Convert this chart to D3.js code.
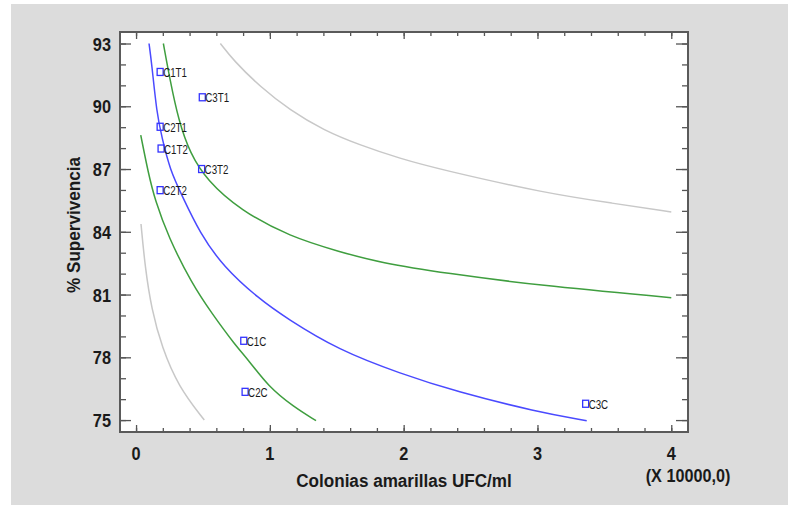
<!DOCTYPE html>
<html>
<head>
<meta charset="utf-8">
<script src="https://cdn.jsdelivr.net/npm/d3@7"></script>
<style>
  body { margin: 0; background: #fff; }
  text { font-family: "Liberation Sans", Arial, sans-serif; }
</style>
</head>
<body>
<script>
// observed points (x in units of 10000 UFC/ml)
var pointLabels = ["C1T1", "C3T1", "C2T1", "C1T2", "C3T2", "C2T2", "C1C", "C2C", "C3C"];
var pointX = [0.18, 0.495, 0.18, 0.187, 0.49, 0.18, 0.805, 0.815, 3.36];
var pointY = [91.64, 90.43, 89.02, 87.98, 87.0, 85.99, 78.79, 76.35, 75.78];

// fitted model (blue)
var fitLine = [[0.097, 93.0], [0.117, 92.04], [0.155, 89.66], [0.192, 88.54], [0.254, 86.95],
  [0.342, 85.75], [0.478, 83.92], [0.653, 82.33], [0.914, 80.82], [1.126, 79.86],
  [1.512, 78.35], [1.973, 77.23], [2.397, 76.35], [2.995, 75.4], [3.368, 74.97]];

// confidence limits (green)
var confUpper = [[0.204, 93.0], [0.254, 91.25], [0.317, 89.34], [0.404, 87.74], [0.529, 86.47],
  [0.777, 85.04], [1.151, 83.76], [1.525, 83.04], [1.824, 82.52], [2.322, 82.01],
  [2.995, 81.45], [4.0, 80.85]];
var confLower = [[0.035, 88.62], [0.092, 86.79], [0.142, 85.51], [0.241, 83.76], [0.416, 81.53],
  [0.566, 80.1], [0.74, 78.59], [0.84, 77.87], [0.989, 76.6], [1.176, 75.64], [1.345, 74.97]];

// prediction limits (gray)
var predUpper = [[0.63, 93.0], [0.727, 92.2], [0.927, 90.93], [1.151, 89.81], [1.4, 88.86],
  [1.674, 88.14], [1.973, 87.5], [2.272, 86.98], [3.07, 85.83], [3.567, 85.36], [4.0, 84.95]];
var predLower = [[0.037, 84.37], [0.067, 82.33], [0.117, 80.26], [0.192, 78.5], [0.316, 76.6], [0.51, 75.0]];

var xTicks = [0, 1, 2, 3, 4];
var yTicks = [75, 78, 81, 84, 87, 90, 93];

var W = 788, H = 506;
var plot = {left: 120, top: 32, right: 688, bottom: 432};

var svg = d3.select("body").append("svg")
    .attr("width", W)
    .attr("height", H);

// squeeze text horizontally to get the narrow look of the original
function narrow(sel, sx) {
  sel.each(function() {
    var t = d3.select(this);
    var tx = +t.attr("x"), ty = +t.attr("y");
    t.attr("x", 0).attr("y", 0)
     .attr("transform", "translate(" + tx + "," + ty + ") scale(" + sx + ",1)");
  });
}

// gray panel
svg.append("rect")
    .attr("x", 11).attr("y", 4)
    .attr("width", W - 11).attr("height", 501)
    .attr("fill", "#dcdcdc");

svg.append("rect")
    .attr("x", plot.left).attr("y", plot.top)
    .attr("width", plot.right - plot.left).attr("height", plot.bottom - plot.top)
    .attr("fill", "#fff");

var x = d3.scaleLinear().domain([-0.12, 4.125]).range([plot.left, plot.right]);
var y = d3.scaleLinear().domain([74.43, 93.55]).range([plot.bottom, plot.top]);

var minorX = d3.range(0, 4.01, 0.2);
var minorY = d3.range(75, 93.5, 1);

// axes with inward ticks
svg.append("g")
    .attr("transform", "translate(0," + plot.bottom + ")")
    .call(d3.axisTop(x).tickValues(minorX).tickSize(4).tickFormat(""));
svg.append("g")
    .attr("transform", "translate(0," + plot.bottom + ")")
    .call(d3.axisTop(x).tickValues(xTicks).tickSize(7).tickFormat(""));
svg.append("g")
    .attr("transform", "translate(0," + plot.top + ")")
    .call(d3.axisBottom(x).tickValues(minorX).tickSize(4).tickFormat(""));
svg.append("g")
    .attr("transform", "translate(0," + plot.top + ")")
    .call(d3.axisBottom(x).tickValues(xTicks).tickSize(7).tickFormat(""));
svg.append("g")
    .attr("transform", "translate(" + plot.left + ",0)")
    .call(d3.axisRight(y).tickValues(minorY).tickSize(6).tickFormat(""));
svg.append("g")
    .attr("transform", "translate(" + plot.left + ",0)")
    .call(d3.axisRight(y).tickValues(yTicks).tickSize(11).tickFormat(""));
svg.append("g")
    .attr("transform", "translate(" + plot.right + ",0)")
    .call(d3.axisLeft(y).tickValues(minorY).tickSize(6).tickFormat(""));
svg.append("g")
    .attr("transform", "translate(" + plot.right + ",0)")
    .call(d3.axisLeft(y).tickValues(yTicks).tickSize(12).tickFormat(""));

svg.selectAll(".domain").remove();
svg.selectAll(".tick line").attr("stroke", "#555").attr("stroke-width", 1.3);

// frame
svg.append("rect")
    .attr("x", plot.left).attr("y", plot.top)
    .attr("width", plot.right - plot.left).attr("height", plot.bottom - plot.top)
    .attr("fill", "none")
    .attr("stroke", "#5a5a5a")
    .attr("stroke-width", 2);

// tick labels
svg.selectAll(".xlab")
    .data(xTicks)
  .enter().append("text")
    .attr("x", function(d) { return x(d); })
    .attr("y", 460)
    .attr("text-anchor", "middle")
    .attr("font-size", 19)
    .attr("font-weight", "bold")
    .attr("fill", "#1a1a1a")
    .text(function(d) { return d; })
    .call(narrow, 0.86);

svg.selectAll(".ylab")
    .data(yTicks)
  .enter().append("text")
    .attr("x", 111)
    .attr("y", function(d) { return y(d) + 7; })
    .attr("text-anchor", "end")
    .attr("font-size", 19)
    .attr("font-weight", "bold")
    .attr("fill", "#1a1a1a")
    .text(function(d) { return d; })
    .call(narrow, 0.86);

// axis titles
svg.append("text")
    .attr("x", (plot.left + plot.right) / 2)
    .attr("y", 487)
    .attr("text-anchor", "middle")
    .attr("font-size", 19)
    .attr("font-weight", "bold")
    .attr("fill", "#1a1a1a")
    .text("Colonias amarillas UFC/ml")
    .call(narrow, 0.9);

svg.append("text")
    .attr("x", 688)
    .attr("y", 482)
    .attr("text-anchor", "middle")
    .attr("font-size", 18)
    .attr("font-weight", "bold")
    .attr("fill", "#1a1a1a")
    .text("(X 10000,0)")
    .call(narrow, 0.9);

svg.append("text")
    .attr("transform", "translate(80,225) rotate(-90) scale(0.9,1)")
    .attr("text-anchor", "middle")
    .attr("font-size", 19)
    .attr("font-weight", "bold")
    .attr("fill", "#1a1a1a")
    .text("% Supervivencia");

// curves
var line = d3.line()
    .x(function(d) { return x(d[0]); })
    .y(function(d) { return y(d[1]); })
    .curve(d3.curveBasis);

var curves = [
  {data: predLower, color: "#c8c8c8"},
  {data: predUpper, color: "#c8c8c8"},
  {data: confLower, color: "#3f9e3f"},
  {data: confUpper, color: "#3f9e3f"},
  {data: fitLine, color: "#4a4aff"}
];

svg.selectAll(".curve")
    .data(curves)
  .enter().append("path")
    .attr("d", function(d) { return line(d.data); })
    .attr("fill", "none")
    .attr("stroke", function(d) { return d.color; })
    .attr("stroke-width", 1.5);

// observed points
var pts = pointLabels.map(function(l, i) { return {label: l, x: pointX[i], y: pointY[i]}; });

svg.selectAll(".pt")
    .data(pts)
  .enter().append("rect")
    .attr("x", function(d) { return x(d.x) - 3; })
    .attr("y", function(d) { return y(d.y) - 3.5; })
    .attr("width", 6)
    .attr("height", 7)
    .attr("fill", "none")
    .attr("stroke", "#3333ff")
    .attr("stroke-width", 1.3);

svg.selectAll(".ptlab")
    .data(pts)
  .enter().append("text")
    .attr("x", function(d) { return x(d.x) + 3; })
    .attr("y", function(d) { return y(d.y) + 5; })
    .attr("font-size", 13)
    .attr("fill", "#1a1a1a")
    .text(function(d) { return d.label; })
    .call(narrow, 0.75);
</script>
</body>
</html>
